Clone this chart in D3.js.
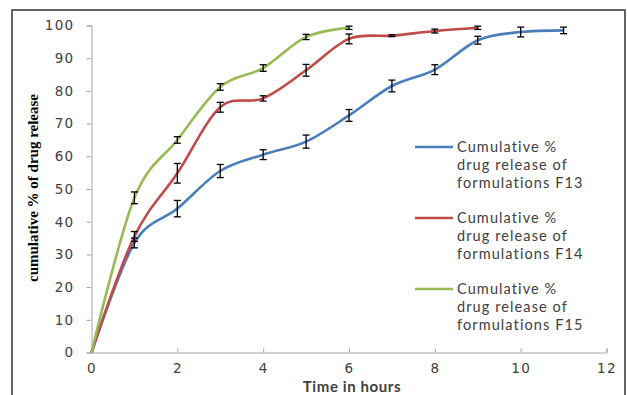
<!DOCTYPE html>
<html><head><meta charset="utf-8">
<script src="https://cdn.jsdelivr.net/npm/d3@7/dist/d3.min.js"></script>
<style>body{margin:0;background:#fff}svg{display:block}</style>
</head><body>
<svg id="c" width="627" height="395"></svg>
<script>
const hours = [0,1,2,3,4,5,6,7,8,9,10,11];
const f13 = [0,33.5,44,55.5,60.5,64.5,72.5,81.5,86.5,95.5,98,98.5];
const f13err = [0,1.5,2.5,2,1.5,2,1.8,1.8,1.5,1.2,1.5,1];
const f14 = [0,35.5,54.8,75,77.7,86.3,95.9,96.9,98.3,99.3];
const f14err = [0,1.5,3,1.5,0.8,1.8,1.5,0.3,0.6,0.5];
const f15 = [0,47.3,65,81.2,87,96.5,99.3];
const f15err = [0,1.8,1,1,1,0.8,0.5];
const seriesNames = ["Cumulative % drug release of formulations F13","Cumulative % drug release of formulations F14","Cumulative % drug release of formulations F15"];
const legendLines = [["Cumulative %","drug release of","formulations F13"],["Cumulative %","drug release of","formulations F14"],["Cumulative %","drug release of","formulations F15"]];
const colors = ["#4a7ebb","#be4b48","#98b954"];
const xTicks = [0,2,4,6,8,10,12];
const yTicks = [0,10,20,30,40,50,60,70,80,90,100];

const svg = d3.select("#c");
svg.append("rect").attr("x",12).attr("y",10).attr("width",613).attr("height",400)
  .attr("fill","none").attr("stroke","#333").attr("stroke-width",1.5);

const x = d3.scaleLinear().domain([0,12]).range([91.5,606.5]);
const y = d3.scaleLinear().domain([0,100]).range([352.5,25.5]);

// y axis
const gy = svg.append("g").attr("transform",`translate(${x(0)},0)`)
  .call(d3.axisLeft(y).tickValues(yTicks).tickSize(5).tickPadding(12));
gy.select(".domain").attr("stroke","#a6a6a6");
gy.selectAll(".tick line").attr("stroke","#a6a6a6");
gy.selectAll("text").attr("font-family","DejaVu Sans").attr("font-size",13.5)
  .attr("letter-spacing",1.3).attr("fill","#404040");

// x axis
const gx = svg.append("g").attr("transform",`translate(0,${y(0)})`)
  .call(d3.axisBottom(x).tickValues(xTicks).tickSize(-4).tickPadding(11));
gx.select(".domain").attr("stroke","#a6a6a6");
gx.selectAll(".tick line").attr("stroke","#a6a6a6");
gx.selectAll("text").attr("font-family","DejaVu Sans").attr("font-size",13.5)
  .attr("letter-spacing",1.3).attr("fill","#404040");

const data = [
  {v:f13, e:f13err},
  {v:f14, e:f14err},
  {v:f15, e:f15err}
];
const line = d3.line().x((d,i)=>x(hours[i])).y(d=>y(d)).curve(d3.curveCardinal.tension(0));

data.forEach((s,k)=>{
  svg.append("path").attr("d",line(s.v)).attr("fill","none")
    .attr("stroke",colors[k]).attr("stroke-width",2.6);
});
data.forEach((s,k)=>{
  const g = svg.append("g");
  s.v.forEach((v,i)=>{
    const e = s.e[i]; if(!e) return;
    const cx = x(hours[i]);
    g.append("line").attr("x1",cx).attr("x2",cx).attr("y1",y(v+e)).attr("y2",y(v-e)).attr("stroke","#000").attr("stroke-width",1.3);
    [v+e,v-e].forEach(t=>g.append("line").attr("x1",cx-3.5).attr("x2",cx+3.5).attr("y1",y(t)).attr("y2",y(t)).attr("stroke","#000").attr("stroke-width",1.3));
  });
});

// legend
legendLines.forEach((lines,k)=>{
  const y0 = 147 + k*71;
  svg.append("line").attr("x1",415).attr("x2",453).attr("y1",y0).attr("y2",y0)
    .attr("stroke",colors[k]).attr("stroke-width",2.6);
  lines.forEach((l,j)=>svg.append("text").attr("x",457).attr("y",y0+5+j*18)
    .attr("font-family","Lato").attr("font-size",14.5).attr("letter-spacing",1.1)
    .attr("fill","#404040").text(l));
});

// axis titles
svg.append("text").attr("x",352).attr("y",392).attr("text-anchor","middle")
  .attr("font-family","Lato").attr("font-weight","bold").attr("font-size",15)
  .attr("letter-spacing",0.6).attr("fill","#404040")
  .text("Time in hours");
svg.append("text").attr("transform","translate(38,188) rotate(-90)").attr("text-anchor","middle")
  .attr("font-family","Liberation Serif").attr("font-weight","bold").attr("font-size",15).attr("fill","#000")
  .text("cumulative % of drug release");
</script>
</body></html>
